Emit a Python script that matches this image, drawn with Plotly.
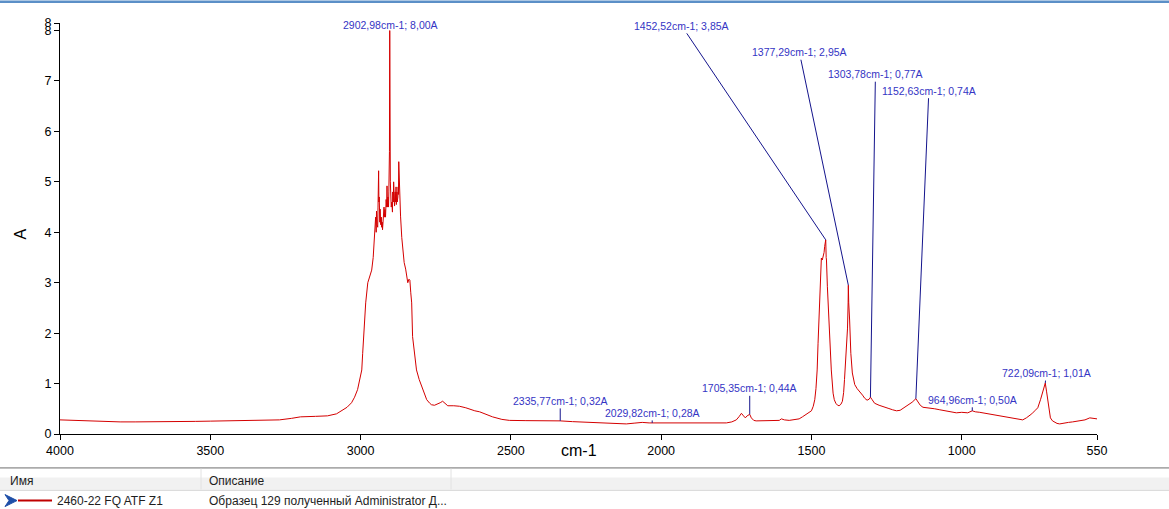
import numpy as np
import plotly.graph_objects as go

# IR spectrum: wavenumber (cm-1) and absorbance (A)
wavenumber = [
    4000, 3950, 3900, 3850, 3800, 3750, 3700, 3650, 3620, 3600, 3550, 3500, 3450, 3400,
    3350, 3300, 3270, 3230, 3200, 3150, 3110, 3080, 3060, 3045, 3030, 3020, 3010, 3003,
    2996, 2993, 2990, 2983, 2976, 2968, 2963, 2958, 2953, 2950, 2948, 2947, 2945, 2943,
    2942, 2940, 2939, 2938, 2936, 2935, 2933, 2931, 2930, 2928, 2927, 2925, 2924, 2922,
    2921, 2919, 2917, 2915, 2913, 2912, 2911, 2909, 2907, 2906, 2905, 2904, 2902.98, 2902,
    2901, 2899, 2898, 2896, 2894, 2893, 2891, 2890, 2888, 2887, 2885, 2884, 2882, 2881,
    2879, 2878, 2876, 2875, 2874, 2873, 2871, 2870, 2868, 2867, 2863,
    2860, 2855, 2850, 2845, 2843, 2839, 2836, 2833, 2830, 2827, 2820, 2814, 2805, 2797,
    2788, 2780, 2770, 2764, 2754, 2744, 2735, 2727, 2718, 2710, 2690, 2671, 2650, 2637,
    2620, 2604, 2580, 2561, 2530, 2505, 2450, 2400, 2335.77, 2295, 2250, 2200, 2150, 2116,
    2090, 2063, 2040, 2029.82, 2000, 1950, 1900, 1850, 1800, 1783, 1765, 1750, 1740, 1733,
    1726, 1720, 1714, 1705.35, 1700, 1692, 1684, 1650, 1620, 1607, 1600, 1590, 1574, 1555,
    1541, 1530, 1517, 1508, 1500, 1494, 1489, 1485, 1481, 1478, 1475, 1472, 1470, 1467,
    1464, 1461, 1458, 1456, 1454, 1452.52, 1451, 1450, 1447, 1442, 1438, 1434, 1428, 1424,
    1419, 1413, 1408, 1402, 1397, 1393, 1390, 1384, 1380, 1378, 1377.29, 1376, 1373, 1369,
    1364, 1360, 1356, 1348, 1339, 1330, 1323, 1315, 1308, 1303.78, 1298, 1290, 1275, 1262,
    1245, 1230, 1217, 1205, 1190, 1179, 1165, 1152.63, 1145, 1138, 1129, 1110, 1090, 1073,
    1050, 1035, 1018, 1000, 980, 964.96, 955, 940, 920, 907, 890, 864, 840, 820,
    797, 785, 775, 767, 757, 747, 738, 731, 726, 722.09, 718, 714, 710, 705,
    698, 691, 683, 674, 660, 645, 631, 615, 602, 590, 574, 562, 550,
]
absorbance = [
    0.28, 0.27, 0.25, 0.25, 0.24, 0.24, 0.24, 0.245, 0.25, 0.245, 0.25, 0.255, 0.26, 0.265,
    0.27, 0.27, 0.28, 0.31, 0.34, 0.35, 0.36, 0.40, 0.47, 0.53, 0.62, 0.73, 0.88, 1.05,
    1.27, 1.6, 1.93, 2.6, 3.0, 3.15, 3.25, 3.5, 3.92, 4.3, 4.0, 4.42, 4.15, 4.1,
    4.5, 5.22, 4.6, 4.7, 4.2, 4.46, 4.15, 4.3, 4.1, 4.2, 4.05, 4.35, 4.2, 4.5,
    4.3, 4.45, 4.3, 4.65, 4.5, 4.92, 4.5, 4.7, 4.5, 4.8, 5.0, 5.6, 8.00, 5.66,
    5.0, 4.66, 4.5, 4.6, 4.4, 4.8, 4.6, 5.0, 4.6, 4.52, 4.8, 4.6, 4.9, 4.55,
    4.8, 4.6, 4.7, 4.9, 4.75, 5.4, 5.0, 5.06, 4.6, 4.32, 3.9,
    3.67, 3.4, 3.27, 3.1, 3.0, 3.07, 3.05, 2.8, 2.6, 1.93, 1.5, 1.27, 1.08, 0.94,
    0.78, 0.68, 0.61, 0.58, 0.57, 0.59, 0.62, 0.65, 0.6, 0.56, 0.56, 0.55, 0.52, 0.49,
    0.46, 0.44, 0.38, 0.34, 0.29, 0.27, 0.265, 0.265, 0.26, 0.245, 0.235, 0.225, 0.21, 0.2,
    0.215, 0.23, 0.22, 0.22, 0.215, 0.215, 0.215, 0.215, 0.22, 0.22, 0.24, 0.28, 0.35, 0.41,
    0.36, 0.32, 0.36, 0.39, 0.32, 0.27, 0.26, 0.26, 0.265, 0.27, 0.3, 0.28, 0.27, 0.28,
    0.3, 0.34, 0.4, 0.43, 0.46, 0.55, 0.68, 0.9, 1.27, 1.8, 2.26, 2.7, 3.06, 3.49,
    3.45, 3.52, 3.6, 3.72, 3.78, 3.85, 3.5, 3.45, 2.92, 2.26, 1.7, 1.27, 0.81, 0.68,
    0.61, 0.57, 0.56, 0.59, 0.65, 0.82, 1.08, 1.6, 2.1, 2.6, 2.95, 2.6, 2.26, 1.6,
    1.21, 1.05, 0.98, 0.9, 0.84, 0.77, 0.71, 0.67, 0.69, 0.73, 0.68, 0.61, 0.57, 0.55,
    0.51, 0.48, 0.46, 0.47, 0.53, 0.58, 0.63, 0.70, 0.63, 0.57, 0.53, 0.52, 0.5, 0.48,
    0.46, 0.44, 0.42, 0.43, 0.42, 0.46, 0.44, 0.43, 0.41, 0.39, 0.37, 0.35, 0.32, 0.3,
    0.28, 0.32, 0.36, 0.4, 0.46, 0.52, 0.68, 0.82, 0.95, 1.01, 0.85, 0.68, 0.48, 0.32,
    0.26, 0.23, 0.21, 0.2, 0.22, 0.23, 0.24, 0.25, 0.26, 0.28, 0.32, 0.31, 0.30,
]

# peak picks shown on the chart
peak_wn = [2902.98, 1452.52, 1377.29, 1303.78, 1152.63, 964.96, 722.09, 1705.35, 2335.77, 2029.82]
peak_labels = [
    "2902,98cm-1; 8,00A", "1452,52cm-1; 3,85A", "1377,29cm-1; 2,95A", "1303,78cm-1; 0,77A",
    "1152,63cm-1; 0,74A", "964,96cm-1; 0,50A", "722,09cm-1; 1,01A", "1705,35cm-1; 0,44A",
    "2335,77cm-1; 0,32A", "2029,82cm-1; 0,28A",
]
# label offset from its peak, in pixels (layout only)
label_offsets = [(1, -6), (-144, -214), (-49, -233), (5, -323), (13, -308),
                 (0, -11), (1, -10), (0, -26), (0, -20), (0, -10)]

x_ticks = [4000, 3500, 3000, 2500, 2000, 1500, 1000, 550]
y_ticks = [0, 1, 2, 3, 4, 5, 6, 7, 8]
y_top = 8.15

legend_name = "2460-22 FQ ATF Z1"
legend_desc = "Образец 129 полученный Administrator Д..."

W, H = 1169, 509
L, R, T, B = 60, 72, 22.5, 74.7
FONT = "Liberation Sans, Arial, sans-serif"


def px(x):
    return (x - L) / (W - L - R)


def py(y):
    return (H - B - y) / (H - T - B)


fig = go.Figure()
fig.add_trace(go.Scatter(x=wavenumber, y=absorbance, mode="lines",
                         line=dict(color="#d40000", width=1), showlegend=False,
                         hoverinfo="x+y"))

for wn, label, (ox, oy) in zip(peak_wn, peak_labels, label_offsets):
    fig.add_annotation(x=wn, y=float(np.interp(wn, wavenumber[::-1], absorbance[::-1])),
                       text=label, showarrow=True, arrowhead=0, arrowwidth=1,
                       arrowcolor="#14148c", ax=ox, ay=oy, standoff=0,
                       font=dict(family=FONT, size=10.5, color="#3434c4"))

# axis titles
fig.add_annotation(x=0.5, y=py(461.7), xref="paper", yref="paper", text="cm-1",
                   showarrow=False, font=dict(family=FONT, size=16, color="black"))
fig.add_annotation(x=px(10), y=py(234), xref="paper", yref="paper", text="A",
                   textangle=-90, showarrow=False, font=dict(family=FONT, size=16, color="black"))

# table underneath (Имя / Описание)
shapes = [
    dict(type="rect", x0=px(0), x1=px(W), y0=py(0), y1=py(2.5),
         fillcolor="#5b8fc7", line_width=0),
    dict(type="rect", x0=px(0), x1=px(W), y0=py(478), y1=py(490.5),
         fillcolor="#f1f1f1", line_width=0),
    dict(type="line", x0=px(0), x1=px(W), y0=py(468.3), y1=py(468.3),
         line=dict(color="#6d6d6d", width=1)),
    dict(type="line", x0=px(0), x1=px(W), y0=py(490.8), y1=py(490.8),
         line=dict(color="#d8d8d8", width=1)),
    dict(type="line", x0=px(201), x1=px(201), y0=py(469), y1=py(490),
         line=dict(color="#e2e2e2", width=1)),
    dict(type="line", x0=px(451), x1=px(451), y0=py(469), y1=py(490),
         line=dict(color="#e2e2e2", width=1)),
    dict(type="path",
         path=f"M {px(5)},{py(495)} L {px(17)},{py(501)} L {px(5)},{py(507)} L {px(9)},{py(501)} Z",
         fillcolor="#1f4fa8", line=dict(color="#1f4fa8", width=1)),
    dict(type="line", x0=px(18), x1=px(52), y0=py(501), y1=py(501),
         line=dict(color="#c00000", width=2)),
]
for s in shapes:
    s.update(xref="paper", yref="paper")
    fig.add_shape(**s)

table_texts = [("Имя", 8, 481.5), ("Описание", 207, 481.5),
               (legend_name, 55, 501.5), (legend_desc, 207, 501.5)]
for txt, x0, y0 in table_texts:
    fig.add_annotation(x=px(x0), y=py(y0), xref="paper", yref="paper", text=txt,
                       xanchor="left", yanchor="middle", showarrow=False,
                       font=dict(family=FONT, size=12, color="#1e1e1e"))

fig.update_layout(
    width=W, height=H,
    margin=dict(l=L, r=R, t=T, b=B, pad=0),
    paper_bgcolor="white", plot_bgcolor="white",
    font=dict(family=FONT, color="black"),
)
fig.update_xaxes(range=[x_ticks[0], x_ticks[-1]], tickvals=x_ticks,
                 ticktext=[str(v) for v in x_ticks],
                 showgrid=False, zeroline=False, showline=True, linecolor="black",
                 linewidth=1, ticks="outside", ticklen=5, tickcolor="black",
                 tickfont=dict(size=12.5))
fig.update_yaxes(range=[0, y_top], tickvals=y_ticks + [y_top],
                 ticktext=[str(v) for v in y_ticks] + ["8"],
                 showgrid=False, zeroline=False, showline=True, linecolor="black",
                 linewidth=1, ticks="outside", ticklen=5, tickcolor="black",
                 tickfont=dict(size=12.5))

# page body has a default 8px margin; drop it so the figure fills the window
fig.write_html("out.html", config={"displayModeBar": False},
               post_script="document.body.style.margin='0px';")
